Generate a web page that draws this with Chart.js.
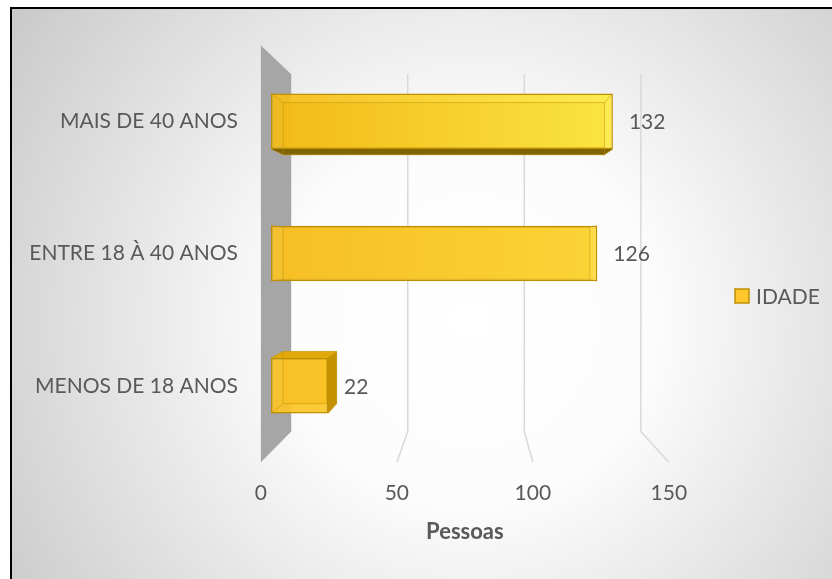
<!DOCTYPE html>
<html>
<head>
<meta charset="utf-8">
<title>IDADE</title>
<script src="https://cdn.jsdelivr.net/npm/chart.js@4.4.1/dist/chart.umd.min.js"></script>
<style>
  html, body { margin: 0; padding: 0; background: #fff; overflow: hidden; }
  canvas { display: block; }
</style>
</head>
<body>
<canvas id="chart" width="832" height="579"></canvas>
<script>
// Data
const categories = ['MAIS DE 40 ANOS', 'ENTRE 18 À 40 ANOS', 'MENOS DE 18 ANOS'];
const idade = [132, 126, 22];
const xTicks = [0, 50, 100, 150];
const seriesLabel = 'IDADE';
const axisTitle = 'Pessoas';

// Look of the fake 3D scene
const FONT = 'Lato, "Open Sans", sans-serif';
const TEXT = '#595959';
const VPX = 0.52, VPY = 0.484;          // vanishing point, as share of the chart area
const FRONT = 1.05, BACK = 0.9;         // floor edge and back wall depth
const BAR_BACK = 0.94;                  // depth of the bar boxes
const barColors = [
  ['rgba(246,188,22,0.92)', 'rgba(255,240,74,0.92)'],
  ['rgba(250,194,36,0.92)', 'rgba(255,220,60,0.92)'],
  ['rgba(252,196,38,0.92)', 'rgba(255,205,45,0.92)']
];

function proj(chart, x, y, s) {
  const a = chart.chartArea;
  const vx = a.left + VPX * (a.right - a.left);
  const vy = a.top + VPY * (a.bottom - a.top);
  return [vx + s * (x - vx), vy + s * (y - vy)];
}

function poly(ctx, pts, fill) {
  ctx.beginPath();
  ctx.moveTo(pts[0][0], pts[0][1]);
  for (let i = 1; i < pts.length; i++) ctx.lineTo(pts[i][0], pts[i][1]);
  ctx.closePath();
  ctx.fillStyle = fill;
  ctx.fill();
}

function barBox(chart, bar) {
  const h = bar.height / 2;
  const f = [[bar.base, bar.y - h], [bar.x, bar.y - h], [bar.x, bar.y + h], [bar.base, bar.y + h]];
  const b = f.map(p => proj(chart, p[0], p[1], BAR_BACK));
  return { f, b };
}

const scene3d = {
  id: 'scene3d',
  beforeDraw(chart) {
    const ctx = chart.ctx;
    const W = chart.width, H = chart.height;
    ctx.save();
    ctx.fillStyle = '#fff';
    ctx.fillRect(0, 0, W, H);
    const g = ctx.createRadialGradient(470, 320, 0, 470, 320, 620);
    g.addColorStop(0, '#ffffff');
    g.addColorStop(0.3, '#fcfcfc');
    g.addColorStop(1, '#c0c0c0');
    ctx.fillStyle = g;
    ctx.fillRect(10, 7, W - 10, H - 7);
    ctx.strokeStyle = '#000';
    ctx.lineWidth = 2;
    ctx.strokeRect(11, 8, W + 10, H + 10);
    ctx.restore();
  },
  beforeDatasetsDraw(chart) {
    const ctx = chart.ctx;
    const a = chart.chartArea;
    const xs = chart.scales.x;
    ctx.save();

    // gridlines on back wall and floor
    ctx.strokeStyle = '#d9d9d9';
    ctx.lineWidth = 1.5;
    xTicks.forEach(v => {
      if (v === 0) return;
      const px = xs.getPixelForValue(v);
      const t = proj(chart, px, a.top, BACK);
      const m = proj(chart, px, a.bottom, BACK);
      const f = proj(chart, px, a.bottom, FRONT);
      ctx.beginPath();
      ctx.moveTo(t[0], t[1]);
      ctx.lineTo(m[0], m[1]);
      ctx.lineTo(f[0], f[1]);
      ctx.stroke();
    });

    // left side wall
    const x0 = xs.getPixelForValue(0);
    poly(ctx, [
      proj(chart, x0, a.top, FRONT), proj(chart, x0, a.top, BACK),
      proj(chart, x0, a.bottom, BACK), proj(chart, x0, a.bottom, FRONT)
    ], '#a6a6a6');

    // visible sides of each bar box
    const vx = a.left + VPX * (a.right - a.left);
    const vy = a.top + VPY * (a.bottom - a.top);
    chart.getDatasetMeta(0).data.forEach(bar => {
      const { f, b } = barBox(chart, bar);
      poly(ctx, b, 'rgba(200,150,10,0.9)');
      if (f[0][1] > vy) poly(ctx, [f[0], f[1], b[1], b[0]], '#e2a90c');
      if (f[2][1] < vy) poly(ctx, [f[3], f[2], b[2], b[3]], '#7f6400');
      if (f[1][0] < vx) poly(ctx, [f[1], f[2], b[2], b[1]], '#c49200');
    });
    ctx.restore();
  },
  afterDatasetsDraw(chart) {
    const ctx = chart.ctx;
    ctx.save();
    chart.getDatasetMeta(0).data.forEach((bar, i) => {
      const { f, b } = barBox(chart, bar);
      // hidden edges showing through the translucent face
      ctx.strokeStyle = 'rgba(196,146,0,0.5)';
      ctx.lineWidth = 1;
      ctx.beginPath();
      b.forEach((p, k) => k ? ctx.lineTo(p[0], p[1]) : ctx.moveTo(p[0], p[1]));
      ctx.closePath();
      for (let k = 0; k < 4; k++) { ctx.moveTo(f[k][0], f[k][1]); ctx.lineTo(b[k][0], b[k][1]); }
      ctx.stroke();
      // value label
      ctx.fillStyle = TEXT;
      ctx.font = '21px ' + FONT;
      ctx.textAlign = 'left';
      ctx.textBaseline = 'middle';
      ctx.fillText(String(idade[i]), bar.x + 16, bar.y + 1);
    });
    ctx.restore();
  },
  afterDraw(chart) {
    const ctx = chart.ctx;
    const a = chart.chartArea;
    const xs = chart.scales.x;
    ctx.save();
    ctx.fillStyle = TEXT;
    ctx.textBaseline = 'middle';
    ctx.textAlign = 'center';
    ctx.font = '21px ' + FONT;
    let fy = 0;
    xTicks.forEach(v => {
      const p = proj(chart, xs.getPixelForValue(v), a.bottom, FRONT);
      fy = p[1];
      ctx.fillText(String(v), p[0], p[1] + 31);
    });
    const l = proj(chart, xs.getPixelForValue(xTicks[0]), a.bottom, FRONT)[0];
    const r = proj(chart, xs.getPixelForValue(xTicks[xTicks.length - 1]), a.bottom, FRONT)[0];
    ctx.font = 'bold 22px ' + FONT;
    ctx.fillText(axisTitle, (l + r) / 2, fy + 70);

    // legend
    ctx.fillStyle = '#ffc72c';
    ctx.fillRect(735, 289, 14, 14);
    ctx.strokeStyle = '#bf9000';
    ctx.lineWidth = 1.5;
    ctx.strokeRect(735, 289, 14, 14);
    ctx.fillStyle = TEXT;
    ctx.textAlign = 'left';
    ctx.font = '21px ' + FONT;
    ctx.fillText(chart.data.datasets[0].label, 756, 297);
    ctx.restore();
  }
};

new Chart(document.getElementById('chart'), {
  type: 'bar',
  data: {
    labels: categories,
    datasets: [{
      label: seriesLabel,
      data: idade,
      barPercentage: 0.42,
      categoryPercentage: 1,
      borderColor: '#bf9000',
      borderWidth: 1.5,
      borderSkipped: false,
      backgroundColor: ctx => {
        const chart = ctx.chart;
        const a = chart.chartArea;
        if (!a) return barColors[0][0];
        const c = barColors[ctx.dataIndex] || barColors[0];
        const g = chart.ctx.createLinearGradient(a.left, 0, a.right, 0);
        g.addColorStop(0, c[0]);
        g.addColorStop(1, c[1]);
        return g;
      }
    }]
  },
  options: {
    indexAxis: 'y',
    responsive: false,
    animation: false,
    layout: { padding: { top: 55, bottom: 127, left: 0, right: 172.5 } },
    plugins: { legend: { display: false }, tooltip: { enabled: false } },
    scales: {
      x: { display: false, min: 0, max: 150 },
      y: {
        grid: { display: false, drawTicks: false },
        border: { display: false },
        ticks: { padding: 33, color: TEXT, font: { family: FONT, size: 21 } },
        afterFit: s => { s.width = 271; }
      }
    }
  },
  plugins: [scene3d]
});
</script>
</body>
</html>
